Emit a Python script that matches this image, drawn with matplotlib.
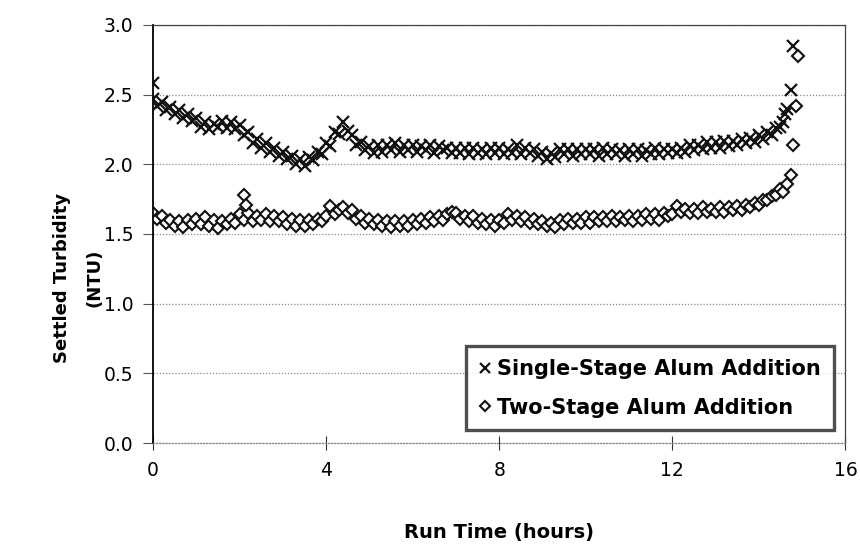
import matplotlib
matplotlib.use('Agg')
import matplotlib.pyplot as plt
import numpy as np

# readings every 0.1 h from 0 to 14.5 h
run_time = np.round(np.arange(0, 14.55, 0.1), 1)

single_stage = [
    2.47, 2.42, 2.45, 2.39, 2.41, 2.36, 2.39, 2.33, 2.36, 2.31,
    2.33, 2.27, 2.30, 2.25, 2.29, 2.27, 2.31, 2.26, 2.30, 2.25,
    2.28, 2.21, 2.23, 2.15, 2.18, 2.12, 2.15, 2.09, 2.12, 2.06,
    2.09, 2.04, 2.06, 2.00, 2.04, 1.99, 2.05, 2.03, 2.09, 2.07,
    2.15, 2.13, 2.23, 2.22, 2.30, 2.24, 2.21, 2.14, 2.16, 2.10,
    2.13, 2.08, 2.14, 2.09, 2.14, 2.10, 2.15, 2.09, 2.14, 2.10,
    2.14, 2.09, 2.13, 2.10, 2.14, 2.08, 2.13, 2.10, 2.12, 2.08,
    2.12, 2.08, 2.12, 2.07, 2.12, 2.08, 2.11, 2.07, 2.12, 2.08,
    2.12, 2.07, 2.11, 2.08, 2.14, 2.07, 2.12, 2.08, 2.11, 2.06,
    2.09, 2.04, 2.08, 2.05, 2.11, 2.07, 2.11, 2.06, 2.11, 2.07,
    2.11, 2.07, 2.11, 2.06, 2.12, 2.07, 2.11, 2.07, 2.10, 2.06,
    2.11, 2.07, 2.11, 2.06, 2.10, 2.07, 2.12, 2.07, 2.11, 2.08,
    2.11, 2.08, 2.12, 2.09, 2.14, 2.10, 2.14, 2.11, 2.16, 2.12,
    2.16, 2.12, 2.17, 2.13, 2.17, 2.14, 2.18, 2.15, 2.19, 2.16,
    2.21, 2.18, 2.23, 2.21, 2.26, 2.27,
]

two_stage = [
    1.65, 1.61, 1.63, 1.58, 1.60, 1.56, 1.59, 1.55, 1.60, 1.57,
    1.61, 1.57, 1.62, 1.56, 1.60, 1.54, 1.59, 1.57, 1.61, 1.58,
    1.64, 1.60, 1.65, 1.59, 1.63, 1.60, 1.64, 1.59, 1.63, 1.59,
    1.62, 1.57, 1.61, 1.56, 1.60, 1.56, 1.60, 1.57, 1.61, 1.59,
    1.63, 1.70, 1.64, 1.67, 1.69, 1.65, 1.67, 1.61, 1.63, 1.58,
    1.61, 1.57, 1.60, 1.56, 1.59, 1.55, 1.59, 1.56, 1.59, 1.56,
    1.60, 1.57, 1.61, 1.58, 1.62, 1.59, 1.63, 1.60, 1.64, 1.66,
    1.65, 1.61, 1.63, 1.59, 1.63, 1.58, 1.61, 1.57, 1.60, 1.56,
    1.60, 1.58, 1.64, 1.60, 1.63, 1.59, 1.62, 1.58, 1.61, 1.57,
    1.59, 1.56, 1.58, 1.55, 1.60, 1.57, 1.61, 1.58, 1.61, 1.58,
    1.62, 1.58, 1.62, 1.59, 1.62, 1.59, 1.63, 1.59, 1.62, 1.60,
    1.63, 1.59, 1.63, 1.60, 1.64, 1.61, 1.64, 1.60, 1.65, 1.63,
    1.64, 1.70, 1.66, 1.68, 1.65, 1.68, 1.65, 1.69, 1.66, 1.68,
    1.66, 1.69, 1.66, 1.69, 1.67, 1.70, 1.67, 1.71, 1.69, 1.72,
    1.71, 1.74, 1.74, 1.77, 1.78, 1.82,
]

# stray readings and the end-of-run spike
single_extra_t = [0.0, 14.55, 14.6, 14.65, 14.75, 14.8]
single_extra = [2.58, 2.30, 2.36, 2.40, 2.53, 2.85]
two_extra_t = [2.1, 2.15, 14.55, 14.65, 14.75, 14.8, 14.85, 14.9]
two_extra = [1.78, 1.71, 1.80, 1.86, 1.92, 2.14, 2.42, 2.78]

fig = plt.figure(figsize=(8.6, 5.59), dpi=100)
ax = fig.add_axes([0.178, 0.2075, 0.805, 0.748])

ink = '#111111'
ax.plot(run_time, single_stage, ls='none', marker='x', ms=8.5, mew=1.6,
        color=ink, label='Single-Stage Alum Addition')
ax.plot(single_extra_t, single_extra, ls='none', marker='x', ms=8.5, mew=1.6,
        color=ink)
ax.plot(run_time, two_stage, ls='none', marker='D', ms=6.2, mew=1.5,
        mfc='white', mec=ink, label='Two-Stage Alum Addition')
ax.plot(two_extra_t, two_extra, ls='none', marker='D', ms=6.2, mew=1.5,
        mfc='white', mec=ink)

ax.set_xlim(0, 16)
ax.set_ylim(0, 3.0)
ax.set_xticks([0, 4, 8, 12, 16])
ax.set_yticks(np.arange(0, 3.01, 0.5))
ax.yaxis.set_major_formatter(matplotlib.ticker.FormatStrFormatter('%.1f'))
ax.grid(axis='y', ls=(0, (1, 1.5)), color='#888888', lw=0.9)
ax.set_axisbelow(True)

ax.spines['left'].set_color('black')
ax.spines['left'].set_linewidth(1.3)
ax.spines['bottom'].set_linestyle((0, (1, 1.5)))
ax.spines['bottom'].set_color('#888888')
ax.spines['bottom'].set_linewidth(0.9)
for s in ('top', 'right'):
    ax.spines[s].set_color('#444444')
    ax.spines[s].set_linewidth(0.9)

ax.tick_params(axis='y', direction='out', length=7, width=0.8,
               labelsize=13.5, pad=7, color='#555555')
ax.tick_params(axis='x', direction='inout', length=10, width=0.8,
               labelsize=13.5, pad=8, color='#333333')

ax.set_xlabel('Run Time (hours)', fontsize=14, fontweight='bold', labelpad=31)
ax.set_ylabel('Settled Turbidity\n(NTU)', fontsize=13, fontweight='bold',
              linespacing=2.0)
ax.yaxis.set_label_coords(-0.072, 0.395)

leg = ax.legend(loc='lower right', bbox_to_anchor=(0.983, 0.031),
                borderaxespad=0, fontsize=15, frameon=True, fancybox=False,
                handlelength=0.6, handletextpad=0.3, labelspacing=0.9,
                borderpad=0.6, markerscale=0.8)
leg.get_frame().set_edgecolor('#222222')
leg.get_frame().set_linewidth(2.4)
for txt in leg.get_texts():
    txt.set_fontweight('bold')

fig.savefig('out.png', dpi=100)
